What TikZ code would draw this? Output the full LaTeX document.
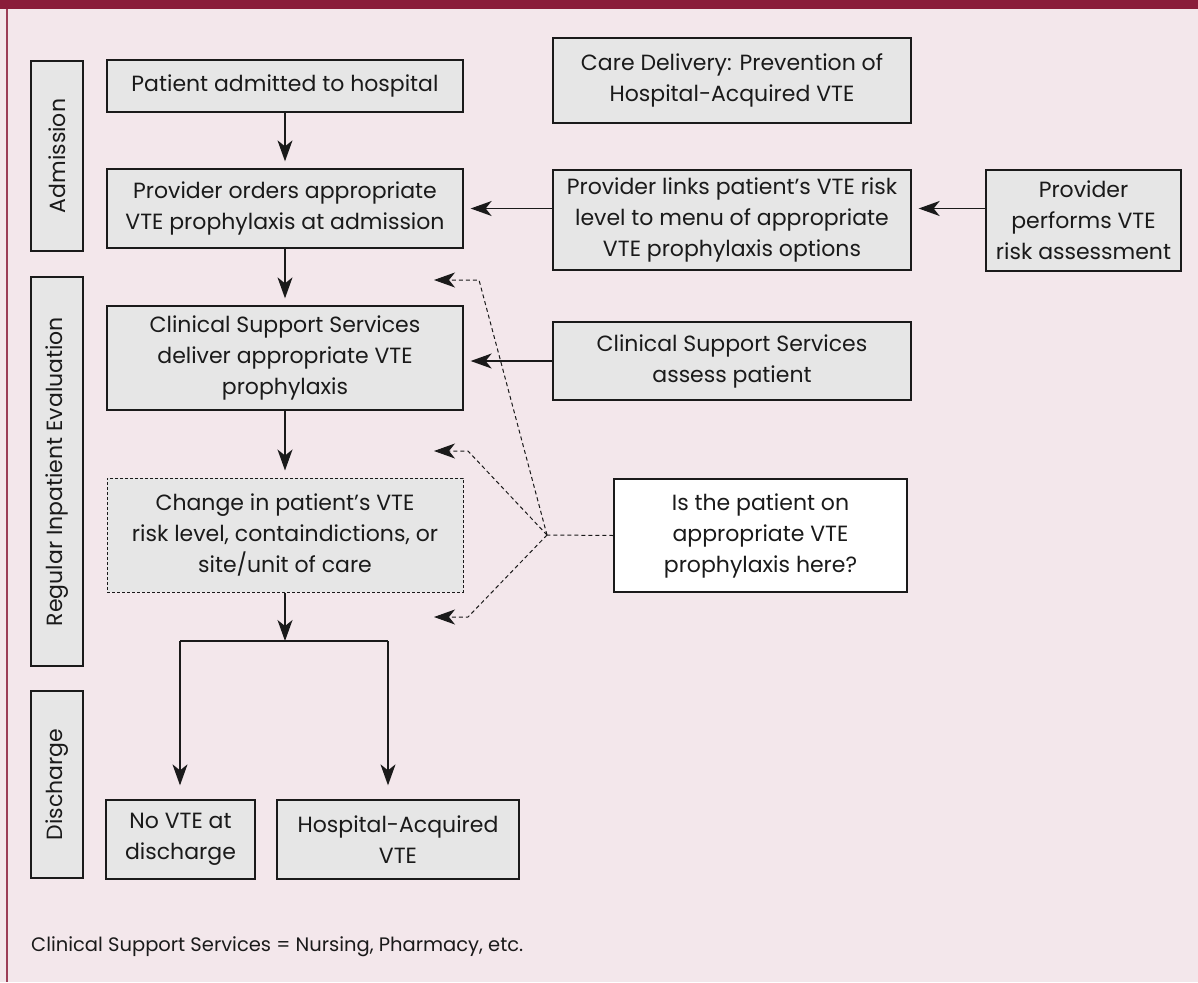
\documentclass[tikz,border=0pt]{standalone}
\usepackage{fontspec}
\setmainfont{Poppins}
\usetikzlibrary{arrows.meta}

\definecolor{bgpink}{HTML}{F3E7EB}
\definecolor{barred}{HTML}{8A1C3A}
\definecolor{boxgray}{HTML}{E6E6E6}
\definecolor{ink}{HTML}{1A1A1A}

\tikzset{
  stepbox/.style={draw=ink, line width=1.3pt, fill=boxgray, text=ink, align=center,
    inner sep=0pt, font=\fontsize{22}{31}\selectfont},
  phasebox/.style={stepbox, rotate=90},
  tip/.style={-{Stealth[length=21pt,width=15pt,inset=6pt]}},
  flow/.style={draw=ink, line width=1.4pt, tip, shorten >=7pt},
  plainline/.style={draw=ink, line width=1.4pt},
  dashln/.style={draw=ink, line width=1pt, dash pattern=on 4pt off 3pt},
}

\begin{document}
\begin{tikzpicture}[x=1pt,y=1pt]

\fill[bgpink] (0,0) rectangle (1198,-982);
\useasboundingbox (0,0) rectangle (1198,-982);
\fill[barred] (0,0) rectangle (1198,-9);
\draw[barred!85, line width=1.5pt] (7,-9) -- (7,-982);

% phases
\node[phasebox, minimum width=190pt, minimum height=52pt] (admission) at (57,-156) {Admission};
\node[phasebox, minimum width=389pt, minimum height=52pt] (regular) at (57,-471.5) {Regular Inpatient Evaluation};
\node[phasebox, minimum width=187pt, minimum height=52pt] (discharge) at (57,-784.5) {Discharge};

% main flow
\node[stepbox, minimum width=356pt, minimum height=52pt] (patient) at (285,-86) {Patient admitted to hospital};
\node[stepbox, minimum width=356pt, minimum height=79pt] (orders) at (285,-208.5) {Provider orders appropriate\\VTE prophylaxis at admission};
\node[stepbox, minimum width=356pt, minimum height=104pt] (deliver) at (285,-358) {Clinical Support Services\\deliver appropriate VTE\\prophylaxis};
\node[stepbox, dash pattern=on 3pt off 2pt, line width=1pt, minimum width=356pt, minimum height=114pt] (change) at (285,-535) {Change in patient’s VTE\\risk level, containdictions, or\\site/unit of care};
\node[stepbox, minimum width=149pt, minimum height=79pt] (novte) at (180.5,-839.5) {No VTE at\\discharge};
\node[stepbox, minimum width=242pt, minimum height=79pt] (hospacq) at (398,-839.5) {Hospital-Acquired\\VTE};

% right column
\node[stepbox, minimum width=358pt, minimum height=85pt] (title) at (732,-80.5) {Care Delivery: Prevention of\\Hospital-Acquired VTE};
\node[stepbox, minimum width=358pt, minimum height=100pt] (links) at (732,-220) {Provider links patient’s VTE risk\\level to menu of appropriate\\VTE prophylaxis options};
\node[stepbox, minimum width=195pt, minimum height=101pt] (performs) at (1083.5,-220.5) {Provider\\performs VTE\\risk assessment};
\node[stepbox, minimum width=358pt, minimum height=78pt] (assess) at (732,-361) {Clinical Support Services\\assess patient};
\node[stepbox, fill=white, minimum width=293pt, minimum height=113pt] (question) at (760.5,-535.5) {Is the patient on\\appropriate VTE\\prophylaxis here?};

\draw[flow] (patient) -- (orders);
\draw[flow] (orders) -- (deliver);
\draw[flow] (deliver) -- (change);
\draw[flow] (orders.east -| links.west) -- (orders.east);
\draw[flow] (performs.west |- orders.east) -- (links.east |- orders.east);
\draw[flow] (assess.west) -- (deliver.east |- assess.west);

% split to discharge
\coordinate (split) at (285,-641);
\coordinate (splitL) at (180,-641);
\coordinate (splitR) at (388,-641);
\draw[flow, shorten >=0pt] (change) -- (split);
\draw[plainline] (splitL) -- (splitR);
\draw[flow, shorten >=14pt] (splitL) -- (splitL |- novte.north);
\draw[flow, shorten >=14pt] (splitR) -- (splitR |- hospacq.north);

% checkpoints
\coordinate (hub) at (547,-535);
\draw[dashln] (question.west) -- (hub);
\foreach \n/\y/\bx in {1/-280/479, 2/-451/468, 3/-617/468}
{
\coordinate (bend\n) at (\bx,\y);
\coordinate (check\n) at (434,\y);
\draw[dashln, tip] (hub) -- (bend\n) -- (check\n);
}

\node[anchor=base west, text=ink, inner sep=0pt, font=\fontsize{19.5}{24}\selectfont] (footnote) at (31,-951) {Clinical Support Services = Nursing, Pharmacy, etc.};

\end{tikzpicture}
\end{document}
